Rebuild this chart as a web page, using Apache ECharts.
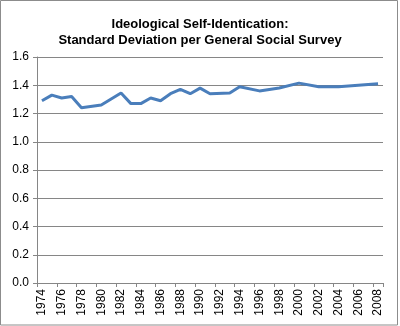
<!DOCTYPE html>
<html>
<head>
<meta charset="utf-8">
<script src="https://cdn.jsdelivr.net/npm/echarts@6/dist/echarts.min.js"></script>
<style>
html,body{margin:0;padding:0;background:#fff;}
#c{width:400px;height:326px;}
</style>
</head>
<body>
<div id="c"></div>
<script>
var titleLines = ['Ideological Self-Identication:', 'Standard Deviation per General Social Survey'];
var years = ['1974','1975','1976','1977','1978','1979','1980','1981','1982','1983','1984','1985','1986','1987','1988','1989','1990','1991','1992','1993','1994','1995','1996','1997','1998','1999','2000','2001','2002','2003','2004','2005','2006','2007','2008'];
var stdDev = [1.29,1.33,1.31,1.32,1.24,null,1.26,null,1.345,1.27,1.27,1.31,1.29,1.34,1.37,1.34,1.38,1.34,null,1.345,1.39,null,1.36,null,1.38,null,1.415,null,1.39,null,1.39,null,1.40,null,1.41];
var yTicks = {min:0, max:1.6, step:0.2};

var chart = echarts.init(document.getElementById('c'));
chart.setOption({
  animation:false,
  title:{
    text: titleLines.join('\n'),
    left:'center', top:11,
    textStyle:{fontFamily:'Liberation Sans, Arial, sans-serif', fontSize:13, fontWeight:'bold', color:'#000', lineHeight:16}
  },
  grid:{left:37, right:17, top:57, bottom:43, containLabel:false},
  xAxis:{
    type:'category', data:years, boundaryGap:true,
    axisLine:{lineStyle:{color:'#868686', width:1}},
    axisTick:{show:true, interval:1, length:4, lineStyle:{color:'#868686'}},
    axisLabel:{interval:1, rotate:90, margin:6, fontFamily:'Liberation Sans, Arial, sans-serif', fontSize:12, color:'#000'},
    splitLine:{show:false}
  },
  yAxis:{
    type:'value', min:yTicks.min, max:yTicks.max, interval:yTicks.step,
    axisLine:{show:true, lineStyle:{color:'#868686', width:1}},
    axisTick:{show:true, length:4, lineStyle:{color:'#868686'}},
    axisLabel:{margin:8, fontFamily:'Liberation Sans, Arial, sans-serif', fontSize:12, color:'#000', formatter:function(v){return v.toFixed(1);}},
    splitLine:{show:true, lineStyle:{color:'#868686', width:1}}
  },
  series:[{
    type:'line', data:stdDev, connectNulls:true, symbol:'none',
    lineStyle:{color:'#4A7EBB', width:3}
  }],
  graphic:[{
    type:'rect', silent:true,
    shape:{x:0.5, y:0.5, width:397, height:324.5},
    style:{fill:'none', stroke:'#8c8c8c', lineWidth:1}
  }]
});
</script>
</body>
</html>
